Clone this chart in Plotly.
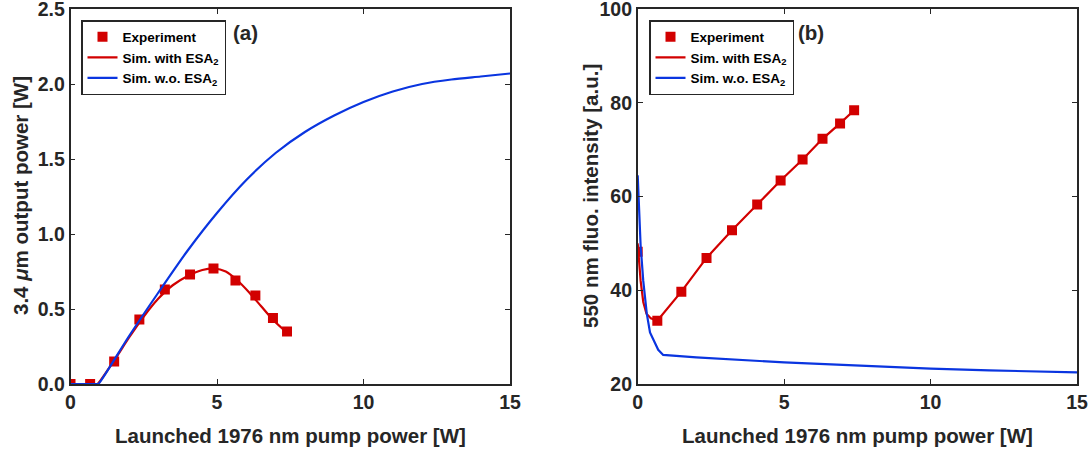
import plotly.graph_objects as go

# ---------------- data ----------------
pump_exp = [0, 0.67, 1.49, 2.35, 3.22, 4.08, 4.88, 5.63, 6.31, 6.91, 7.39]
power_exp = [0.0, 0.0, 0.15, 0.43, 0.63, 0.73, 0.77, 0.69, 0.59, 0.44, 0.35]
fluo_exp = [48.2, 33.5, 39.7, 46.9, 52.8, 58.3, 63.4, 67.9, 72.3, 75.6, 78.4]

sim_a_red_x = [0, 0.8, 0.88, 0.92, 1.5, 2.0, 2.5, 3.0, 3.5, 4.0, 4.5, 4.9, 5.3, 5.7, 6.1, 6.5, 6.9, 7.4]
sim_a_red_y = [0, 0, 0, 0, 0.16, 0.31, 0.45, 0.57, 0.66, 0.72, 0.76, 0.77, 0.75, 0.69, 0.61, 0.52, 0.43, 0.34]
sim_a_blue_x = [0, 0.85, 0.92, 0.95, 2, 3, 4, 5, 6, 7, 8, 9, 10, 11, 12, 13, 14, 15]
sim_a_blue_y = [0, 0, 0, 0, 0.32, 0.61, 0.89, 1.14, 1.36, 1.54, 1.68, 1.79, 1.88, 1.95, 2.00, 2.03, 2.05, 2.07]

sim_b_red_x = [0, 0.05, 0.1, 0.19, 0.3, 0.45, 0.67, 1.49, 2.35, 3.22, 4.08, 4.88, 5.63, 6.31, 6.91, 7.39]
sim_b_red_y = [50, 46, 42, 37.5, 35, 34, 33.5, 39.7, 46.9, 52.8, 58.3, 63.4, 67.9, 72.3, 75.6, 78.4]
sim_b_blue_x = [0, 0.05, 0.1, 0.19, 0.31, 0.42, 0.53, 0.7, 0.87, 2, 5, 8, 10, 12, 15]
sim_b_blue_y = [64.5, 56.3, 49.5, 42, 35, 31, 29.4, 27.3, 26.2, 25.7, 24.6, 23.8, 23.3, 22.9, 22.5]

x_ticks = [0, 5, 10, 15]
ya_ticks = [0.0, 0.5, 1.0, 1.5, 2.0, 2.5]
yb_ticks = [20, 40, 60, 80, 100]

# ---------------- style ----------------
W, H = 1092, 452
RED = "#d20000"
BLUE = "#0a35e0"
DARK = "#262626"
FONT = "Liberation Sans"

fig = go.Figure()

def add_panel(xa, ya, legend, exp_y, red_x, red_y, red_shape, blue_x, blue_y, blue_shape):
    fig.add_trace(go.Scatter(x=red_x, y=red_y, mode="lines",
                             line=dict(color=RED, width=2.2, shape=red_shape, smoothing=0.8),
                             xaxis=xa, yaxis=ya, legend=legend, showlegend=False))
    fig.add_trace(go.Scatter(x=pump_exp, y=exp_y, mode="markers", name="Experiment",
                             marker=dict(symbol="square", size=10, color=RED),
                             xaxis=xa, yaxis=ya, legend=legend))
    fig.add_trace(go.Scatter(x=[None], y=[None], mode="lines", name="Sim. with ESA<sub>2</sub>",
                             line=dict(color=RED, width=2.2), xaxis=xa, yaxis=ya, legend=legend))
    fig.add_trace(go.Scatter(x=blue_x, y=blue_y, mode="lines", name="Sim. w.o. ESA<sub>2</sub>",
                             line=dict(color=BLUE, width=2.2, shape=blue_shape, smoothing=0.8),
                             xaxis=xa, yaxis=ya, legend=legend))

add_panel("x", "y", "legend", power_exp, sim_a_red_x, sim_a_red_y, "spline",
          sim_a_blue_x, sim_a_blue_y, "spline")
add_panel("x2", "y2", "legend2", fluo_exp, sim_b_red_x, sim_b_red_y, "linear",
          sim_b_blue_x, sim_b_blue_y, "linear")

axis_common = dict(showline=True, linecolor=DARK, linewidth=1.6, mirror="ticks",
                   ticks="inside", ticklen=5, tickwidth=1.4, tickcolor=DARK,
                   showgrid=False, zeroline=False, automargin=False, ticklabeloverflow="allow",
                   tickfont=dict(family=FONT, size=19.5, color=DARK, weight="bold"))

ybot = 1 - 384 / H
legend_font = dict(family=FONT, size=13.5, color="black", weight="bold")
fig.update_layout(
    width=W, height=H,
    margin=dict(l=0, r=0, t=0, b=0),
    paper_bgcolor="white", plot_bgcolor="white",
    xaxis=dict(domain=[70.5 / W, 510 / W], range=[0, 15], tickvals=x_ticks, anchor="y", **axis_common),
    yaxis=dict(domain=[ybot, 1 - 9 / H], range=[0, 2.5], tickvals=ya_ticks, tickformat=".1f",
               anchor="x", **axis_common),
    xaxis2=dict(domain=[637.7 / W, 1077 / W], range=[0, 15], tickvals=x_ticks, anchor="y2", **axis_common),
    yaxis2=dict(domain=[ybot, 1 - 9 / H], range=[20, 100], tickvals=yb_ticks, anchor="x2", **axis_common),
    legend=dict(x=81 / W, y=1 - 20 / H, xanchor="left", yanchor="top",
                bordercolor=DARK, borderwidth=1.5, bgcolor="white", tracegroupgap=0,
                font=legend_font),
    legend2=dict(x=649 / W, y=1 - 20 / H, xanchor="left", yanchor="top",
                 bordercolor=DARK, borderwidth=1.5, bgcolor="white", tracegroupgap=0,
                 font=legend_font),
)

ann_font = dict(family=FONT, size=20.5, color=DARK, weight="bold")
annotations = [
    dict(text="(a)", x=245 / W, y=1 - 33 / H),
    dict(text="(b)", x=811 / W, y=1 - 33 / H),
    dict(text="Launched 1976 nm pump power [W]", x=(70.5 + 510) / 2 / W, y=1 - 435 / H),
    dict(text="Launched 1976 nm pump power [W]", x=(637.7 + 1077) / 2 / W, y=1 - 435 / H),
    dict(text="3.4 <i>μ</i>m output power [W]", x=20 / W, y=1 - 196 / H, textangle=-90),
    dict(text="550 nm fluo. intensity [a.u.]", x=590 / W, y=1 - 196 / H, textangle=-90),
]
for a in annotations:
    fig.add_annotation(xref="paper", yref="paper", showarrow=False, xanchor="center", yanchor="middle",
                       font=ann_font, **a)

fig.write_html("out.html")
